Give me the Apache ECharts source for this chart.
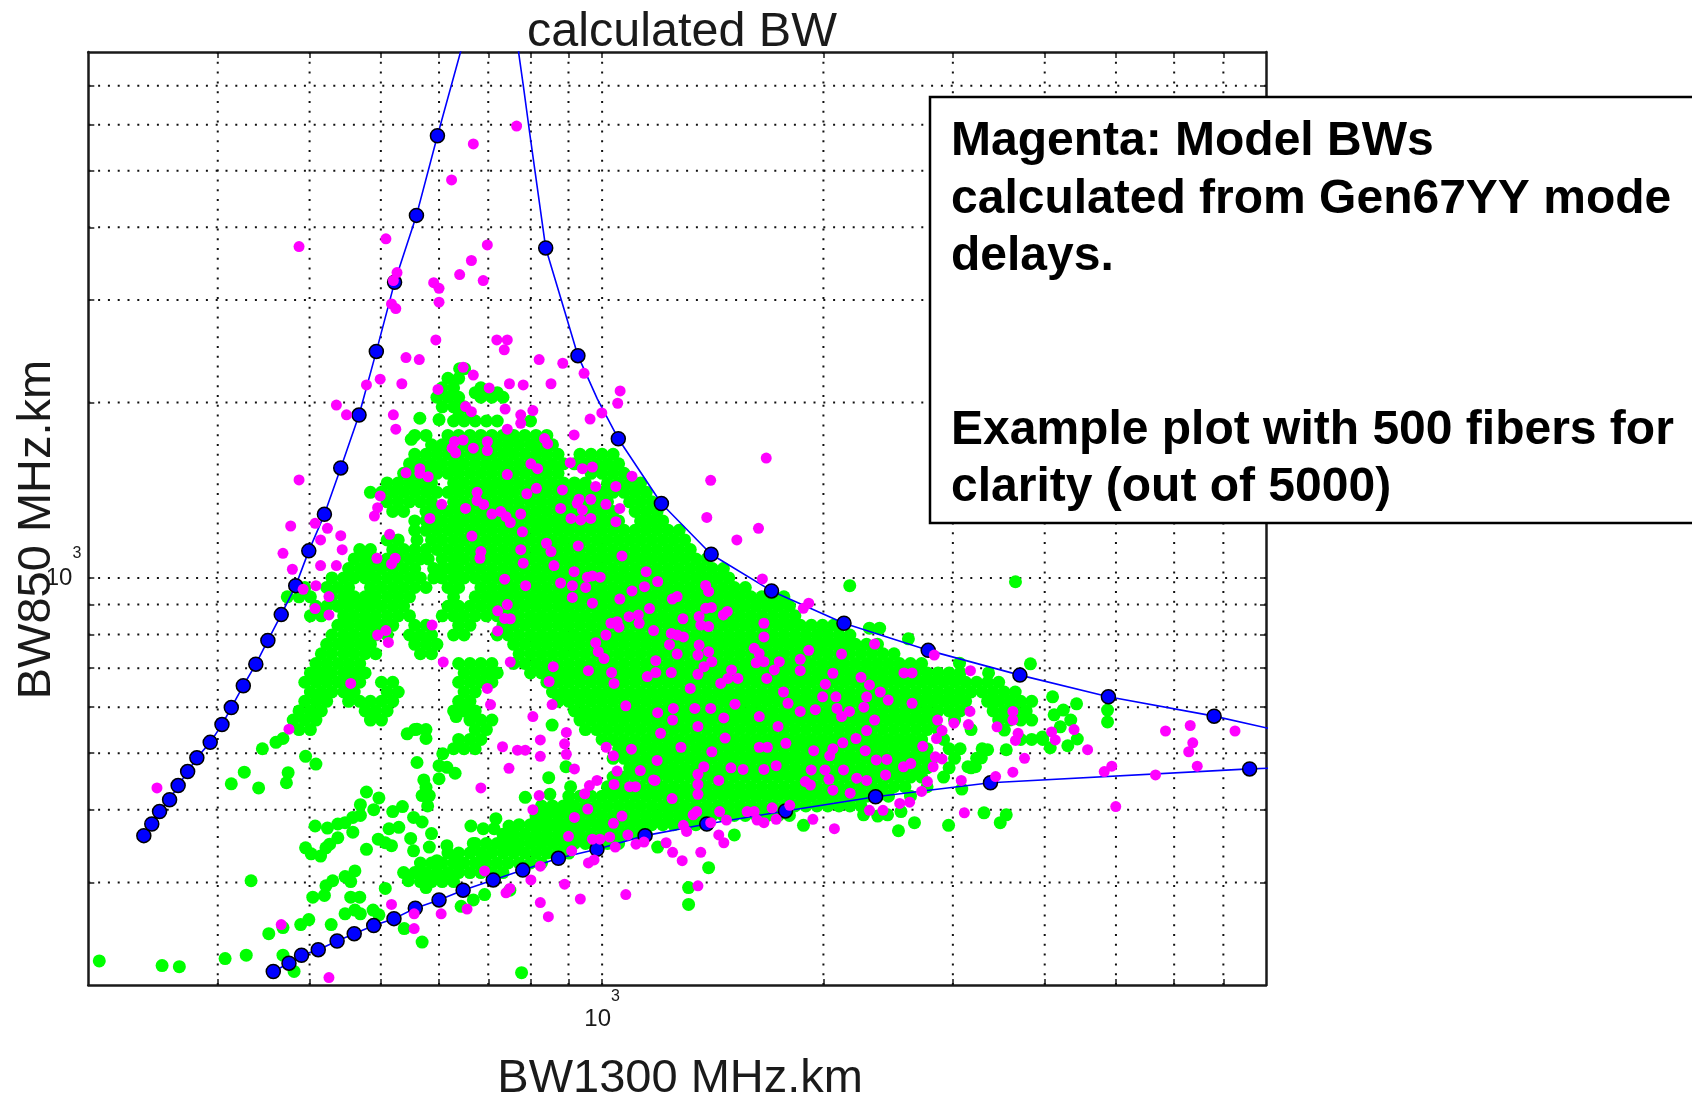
<!DOCTYPE html>
<html><head><meta charset="utf-8">
<style>html,body{margin:0;padding:0;background:#fff}#c{width:1692px;height:1097px}</style>
<script src="https://cdn.jsdelivr.net/npm/echarts@6/dist/echarts.min.js"></script>
</head><body><div id="c"></div>
<script>
const titleText = 'calculated BW';
const xName = 'BW1300 MHz.km';
const yName = 'BW850 MHz.km';
const noteLines = ['Magenta: Model BWs','calculated from Gen67YY mode','delays.','','','Example plot with 500 fibers for','clarity (out of 5000)'];
const axisMin = 200, axisMax = 8000;
const xGrid = [300,400,500,600,700,800,900,1000,2000,3000,4000,5000,6000,7000];
const yGrid = [300,400,500,600,700,800,900,1000,2000,3000,4000,5000,6000,7000];
const labelled = [1000];

// Blue bound curves and their markers
const upperDots = [[238,361],[244,378],[250,397],[258,416],[265,440],[273,465],[281,491],[293,522],[304,560],[313,599],[325,653],[338,711],[351,781],[366,865],[383,970],[399,1113],[419,1286],[441,1545],[467,1904],[493,2449],[522,3218],[559,4193],[597,5745],
 [838,3687],[927,2408],[1052,1734],[1204,1342],[1407,1098],[1700,950],[2133,836],[2777,751],[3701,681],[4883,625],[6800,579]];
const upperLine = [[238,361],[244,378],[250,397],[258,416],[265,440],[273,465],[281,491],[293,522],[304,560],[313,599],[325,653],[338,711],[351,781],[366,865],[383,970],[399,1113],[419,1286],[441,1545],[467,1904],[493,2449],[522,3218],[559,4193],[597,5745],[653,8660],
 [768,8700],[770,7970],[782,6940],[797,5808],[811,4960],[838,3687],[880,3000],[927,2408],[985,2030],[1052,1734],[1204,1342],[1407,1098],[1700,950],[2133,836],[2777,751],[3701,681],[4883,625],[6800,579],[8200,549]];
const lowerDots = [[357,211],[375,218],[390,225],[411,230],[436,238],[460,245],[489,253],[521,260],[557,271],[600,280],[647,291],[711,303],[780,315],[872,330],[984,342],[1144,361],[1388,378],[1776,398],[2355,421],[3375,445],[7600,470]];
const lowerLine = [...lowerDots,[8300,472]];

// Green cloud, read row by row: [BW850, BW1300, BW1300, ...]
const greenUpperRows = [
[2287,640,650],[2202,617,638],[2121,606,628,684],[2080,672,696,720],[2043,596,617,638,684,708,733],[1967,606,628,649],[1895,638,661],
[1860,628,649,672,696,720,799],
[1757,556,576,617,638,661,684,708,733,758,785,813,841],
[1693,586,606,628,649,672,696,720,745,771,799,827,856],
[1630,556,576,596,617,638,661,684,708,733,758,785,813,841,871,933,966,1000,1035],
[1570,547,566,586,606,628,649,672,696,720,745,771,799,827,856,886,917,949,983,1017,1053],
[1512,537,556,576,596,617,638,661,684,708,733,758,785,813,841,871,966,1000,1035,1071],
[1456,510,528,547,566,586,628,649,672,696,720,745,771,799,827,856,886,917,949,1017,1053,1090,1128],
[1403,484,501,519,537,556,576,596,617,638,661,684,708,733,758,785,813,841,871,901,933,966,1000,1035,1071,1109,1148],
[1351,510,528,547,566,586,628,649,672,696,720,745,771,799,827,856,886,917,949,983,1017,1090,1128,1168],
[1301,519,537,576,596,617,638,661,684,708,733,758,785,813,841,871,901,933,966,1000,1035,1109,1148,1188],
[1253,556,576,586,606,628,649,672,696,720,745,771,799,827,856,886,917,949,983,1017,1053,1128,1168,1209],
[1207,556,576,596,617,638,661,684,708,733,758,785,813,841,871,901,933,966,1000,1035,1071,1109,1148,1188,1230,1273],
[1162,510,528,560,586,606,628,649,672,696,720,745,771,799,827,856,886,917,949,983,1017,1053,1090,1128,1168,1209,1251,1295],
[1119,468,484,519,537,556,576,596,617,638,661,684,708,733,758,785,813,841,871,901,933,966,1000,1035,1071,1109,1148,1188,1230,1273,1318],
[1078,460,476,492,510,528,547,566,580,606,628,649,672,696,720,745,771,799,827,856,886,917,949,983,1017,1053,1090,1128,1168,1209,1251,1295,1341,1388],
[1038,452,468,484,501,519,537,556,590,606,620,638,661,684,708,733,758,785,813,841,871,901,933,966,1000,1035,1071,1109,1148,1188,1230,1273,1318,1364,1412,1462],
[1000,429,445,460,476,492,510,528,547,566,590,606,628,649,672,696,720,745,771,799,827,856,886,917,949,983,1017,1053,1090,1128,1168,1209,1251,1295,1341,1388,1437,1487],
[963,394,422,437,452,484,501,519,537,556,576,617,638,684,708,733,758,785,813,841,871,901,933,966,1000,1035,1071,1109,1148,1188,1230,1273,1318,1364,1412,1462,1513,1566],
[928,373,387,401,429,445,460,476,492,510,528,547,628,672,696,720,745,771,799,827,856,886,917,949,983,1017,1053,1090,1128,1168,1209,1251,1295,1341,1388,1437,1487,1539,1593,1649,1707,1767],
[894,408,422,437,452,468,484,501,519,537,617,638,661,684,708,733,758,785,813,841,871,901,933,966,1000,1035,1071,1109,1148,1188,1230,1273,1318,1364,1412,1462,1513,1566,1621,1678,1737,1798],
[861,401,415,445,460,476,492,510,528,547,606,628,649,672,696,720,745,771,799,827,856,886,917,949,983,1017,1053,1090,1128,1168,1209,1251,1295,1341,1388,1437,1487,1539,1593,1649,1707,1767,1829]
];
const greenMiddleRows = [
[829,437,452,468,484,501,519,556,576,638,661,733,758,785,813,841,871,901,933,966,1000,1035,1071,1109,1148,1188,1230,1273,1318,1364,1412,1462,1513,1566,1621,1678,1737,1798,1861,1926,1994,2064],
[798,429,445,460,476,492,510,547,566,586,628,649,720,745,771,799,827,856,886,917,949,983,1017,1053,1090,1128,1168,1209,1251,1295,1341,1388,1437,1487,1539,1593,1649,1707,1767,1829,1893,1960,2028,2100,2173],
[769,422,437,452,468,484,556,576,596,758,785,813,841,871,901,933,966,1000,1035,1071,1109,1148,1188,1230,1273,1318,1364,1412,1462,1513,1566,1621,1678,1737,1798,1861,1926,1994,2064,2136,2211,2289,2369],
[741,415,429,445,460,476,492,566,586,771,799,827,856,886,917,949,983,1017,1053,1090,1128,1168,1209,1251,1295,1341,1388,1437,1487,1539,1593,1649,1707,1767,1829,1893,1960,2028,2100,2173,2250,2329,2410,2495],
[713,408,422,437,452,468,638,661,684,708,758,785,813,841,871,901,933,966,1000,1035,1071,1109,1148,1188,1230,1273,1318,1364,1412,1462,1513,1566,1621,1678,1737,1798,1861,1926,1994,2064,2136,2211,2289,2369,2452,2538,2627,2720],
[687,401,415,429,445,460,476,649,672,696,720,799,827,856,886,917,949,983,1017,1053,1090,1128,1168,1209,1251,1295,1341,1388,1437,1487,1539,1593,1649,1707,1767,1829,1893,1960,2028,2100,2173,2250,2329,2410,2495,2582,2673,2767,2864,2965,3069],
[662,394,408,422,437,452,468,501,519,638,661,684,708,841,871,901,933,966,1000,1035,1071,1109,1148,1188,1230,1273,1318,1364,1412,1462,1513,1566,1621,1678,1737,1798,1861,1926,1994,2064,2136,2211,2289,2369,2452,2538,2627,2720,2815,2914,3016,3122,3232,3345,3463],
[637,401,415,429,445,460,510,528,649,672,856,886,917,949,983,1017,1053,1090,1128,1168,1209,1251,1295,1341,1388,1437,1487,1539,1593,1649,1707,1767,1829,1893,1960,2028,2100,2173,2250,2329,2410,2495,2582,2673,2767,2864,2965,3069,3176,3288,3403,3523,3647],
[614,394,408,422,452,468,484,501,519,638,661,871,901,933,966,1000,1035,1071,1109,1148,1188,1230,1273,1318,1364,1412,1462,1513,1566,1621,1678,1737,1798,1861,1926,1994,2064,2136,2211,2289,2369,2452,2538,2627,2720,2815,2914,3016,3122,3345,3463,3584,3710,3840],
[591,387,401,415,476,492,510,628,649,672,917,949,983,1017,1053,1090,1128,1168,1209,1251,1295,1341,1388,1437,1487,1539,1593,1649,1707,1767,1829,1893,1960,2028,2100,2173,2250,2329,2410,2495,2582,2673,2767,2864,2965,3069,3403,3523,3647,3775],
[570,380,394,408,484,501,661,684,708,933,966,1000,1035,1071,1109,1148,1188,1230,1273,1318,1364,1412,1462,1513,1566,1621,1678,1737,1798,1861,1926,1994,2064,2136,2211,2289,2369,2452,2538,2627,2720,2815,3016,3463,3584,3710,3840],
[549,387,401,556,576,672,696,949,983,1017,1053,1090,1128,1168,1209,1251,1295,1341,1388,1437,1487,1539,1593,1649,1707,1767,1829,1893,1960,2028,2100,2173,2250,2329,2410,2495,2582,2673,2767,2864,3176],
[528,638,661,684,1000,1035,1071,1109,1148,1188,1230,1273,1318,1364,1412,1462,1513,1566,1621,1678,1737,1798,1861,1926,1994,2064,2136,2211,2289,2369,2452,2538,2627,2720,2914,3710,3840,3975]
];
const greenLowerRows = [
[509,628,649,672,1053,1090,1128,1168,1209,1251,1295,1341,1388,1437,1487,1539,1593,1649,1707,1767,1829,1893,1960,2028,2100,2173,2250,2329,2410,2495,2582,2673,2767,2965,3069,3288],
[490,1035,1071,1109,1148,1188,1230,1273,1318,1364,1412,1462,1513,1566,1621,1678,1737,1798,1861,1926,1994,2064,2136,2211,2289,2369,2452,2538,2627,2720,2815,3016,3232],
[472,1090,1128,1168,1209,1251,1295,1341,1388,1437,1487,1539,1593,1649,1707,1767,1829,1893,1960,2028,2100,2173,2250,2329,2410,2495,2582,2673,2767,2965,3176],
[455,1035,1071,1109,1148,1188,1230,1273,1318,1364,1412,1462,1513,1566,1621,1678,1737,1798,1861,1926,1994,2064,2136,2211,2289,2369,2452,2538,2627,2720,2914],
[438,1017,1053,1090,1128,1168,1209,1251,1295,1341,1388,1437,1487,1539,1593,1649,1707,1767,1829,1893,1960,2028,2100,2173,2250,2329,2410,2495,2582,2767],
[422,901,933,966,1000,1035,1071,1109,1148,1188,1230,1273,1318,1364,1412,1462,1513,1566,1621,1678,1737,1798,1861,1926,1994,2064,2136,2211,2289,2369,2452,2627],
[406,827,856,886,917,949,983,1017,1053,1090,1128,1168,1209,1251,1295,1341,1388,1437,1487,1539,1593,1649,1707,1767,1829,1893,1960,2028,2100,2173,2250],
[391,813,841,871,901,933,966,1000,1035,1071,1109,1148,1188,1230,1273,1318,1364,1412,1462,1513,1566,1621,1678,1737,1798],
[377,771,799,827,856,886,917,949,983,1017,1053,1090,1128,1168,1209,1251,1295,1341,1388],
[363,733,758,785,813,841,871,901,933,966,1000,1035,1071,1109,1148],
[350,672,696,720,745,771,799,827,856,886,917,949,983,1017,1053],
[337,617,638,661,684,708,733,758,785,813,841,871,901],
[324,566,586,606,628,649,672,696,720,745,771,799,827],
[312,537,556,576,596,617,638,661,684,708,733],
[301,566,586,606,628]
];
const greenLoose = [[565,1880],[550,1730],[600,1870],[307,222],[328,225],[252,216],[266,215],[207,220],[333,302],[313,443],[326,464],[341,436],[345,509],[360,522],[368,530],[372,445],[374,463],[395,494],[408,479],[407,375],[423,372],[437,378],[447,380],[458,388],[469,391],[458,366],[437,358],[426,349],[421,344],[395,344],[402,336],[414,333],[478,342],[496,356],[507,351],[517,347],[513,371],[529,373],[549,357],[478,429],[497,419],[489,400],[469,408],[519,397],[535,405],[554,388],[569,381],[579,406],[586,364],[572,450],[576,437],[582,423],[569,423],[600,452],[607,499],[600,476],[615,473],[631,462],[560,482],[576,530],[543,540],[560,550],[633,578],[657,600],[663,375],[689,371],[713,371],[747,375],[755,363],[717,386],[554,340],[582,345],[615,347],[596,327],[633,327],[668,350],[689,331],[735,345],[768,345],[561,312],[545,302],[576,294],[421,296],[430,302],[447,307],[461,314],[455,301],[404,283],[419,285],[455,283],[468,283],[507,293],[447,265],[461,269],[469,265],[488,269],[497,264],[399,259],[389,254],[428,254],[352,245],[368,251],[368,225],[381,211],[538,250],[569,237],[643,273],[692,286],[668,280],[749,291],[777,210],[855,559],[893,474],[846,454],[906,438],[849,425],[786,420],[825,388],[855,400],[897,404],[1396,318],[1311,294],[1311,275],[1190,345],[1513,362],[1879,376],[2268,392],[2371,390],[2445,392],[2550,397],[2530,368],[2660,380],[2960,376],[3307,395],[3480,380],[3546,392],[3546,507],[3085,434],[3145,474],[3220,474],[3280,491],[3345,507],[3394,610],[3525,548],[4100,625],[4120,582],[4240,593],[4420,608],[4340,570],[4200,555],[4430,529],[4300,515],[4070,511],[3970,533],[3825,712],[3650,985],[2172,970],[2610,786],[4870,593],[4870,566],[3063,714],[3355,687],[2310,820],[2385,820]];
const greenPoints = [...greenUpperRows,...greenMiddleRows,...greenLowerRows].flatMap(r => r.slice(1).map(x => [x, r[0]])).concat(greenLoose);

// Magenta model points
const magentaTop = [[765,5970],[668,5563],[624,4825],[387,3707],[508,3822],[698,3731],[664,3508],[640,3319],[689,3240],[590,3214],[600,3143],[600,2975],[526,3344],[520,3240],[517,2955],[524,2901],[594,2563],[719,2563],[743,2563],[736,2464],[541,2390],[564,2371],[821,2371],[884,2337],[647,2300],[668,2230],[945,2246],[499,2194],[478,2145],[534,2155],[598,2107],[702,2120],[748,2155],[781,2145],[852,2155],[1058,2095],[1050,1995],[435,1981],[449,1906],[520,1906],[524,1801],[652,1969],[664,1930],[738,1950],[775,1906],[805,1938],[775,1843],[743,1801],[963,1874],[999,1920],[916,1760],[835,1735],[843,1700],[647,1725],[630,1715],[625,1670],[632,1640],[668,1670],[698,1715],[698,1655],[905,1577],[940,1540],[970,1550],[800,1570],[817,1540],[565,1540],[541,1515],[565,1512],[580,1492],[743,1505],[1098,1495],[1672,1606],[1405,1471],[387,1473],[980,1436],[1044,1436],[883,1416],[814,1425],[790,1395],[676,1403],[676,1357],[690,1337],[499,1383],[495,1320],[605,1338],[652,1316],[878,1316],[925,1343],[965,1365],[1012,1338],[1057,1316],[930,1365],[940,1308],[708,1287],[728,1300],[740,1274],[750,1245],[775,1287],[907,1265],[935,1258],[965,1265],[1044,1249],[1388,1270],[1632,1217],[1525,1162],[490,1277],[583,1265],[377,1228],[407,1241],[423,1217],[414,1162],[441,1182],[443,1118],[368,1102],[514,1188],[665,1180],[779,1200],[840,1147],[852,1110],[928,1135],[1064,1091],[684,1110],[682,1081],[775,1118],[523,1081],[517,1057],[494,1081],[379,1035],[414,1050],[435,1050],[781,1060],[860,1050],[1148,1025],[916,1025],[955,1003],[970,1008],[994,1003],[737,995],[878,980],[911,970],[950,963],[1142,966],[1190,986],[787,970],[392,956],[408,970],[425,929],[407,886],[425,864],[1652,996],[911,926],[1057,920],[1098,950],[1246,920],[1265,929],[743,900],[721,878],[737,852],[750,851],[970,905],[1160,886],[1383,971],[1396,948],[1383,887],[1408,890],[1462,864],[1480,876],[1288,851],[1088,858],[1120,864],[1028,836],[1048,841],[1054,823],[1123,836],[1355,859],[1362,830],[1396,825],[1660,836],[587,830],[495,798],[508,812],[512,775],[721,811],[1012,798],[1175,812],[1242,803],[1265,798],[1290,792],[1235,768],[1660,792],[980,774],[988,747],[1006,727],[1265,740],[1183,721],[1355,767],[1396,747],[1350,737],[1610,757],[1635,742],[1620,715],[1660,718],[1410,718],[1376,704],[608,717],[750,717],[858,704],[958,693],[1030,688],[1242,688],[1183,688],[1152,677],[1350,683],[1500,695],[1483,672],[1530,672],[1450,659],[1715,695],[1742,718],[455,659],[847,664],[1038,659],[698,646],[1318,646],[1675,672]];
const magentaRight = [[1878,887],[1910,905],[2348,770],[2830,737],[3170,693],[2574,687],[2640,687],[1860,725],[1860,693],[1910,751],[2117,740],[2060,686],[2250,675],[2012,657],[1995,625],[2080,625],[2310,655],[2290,625],[2390,637],[2450,617],[2640,609],[2270,600],[2087,597],[2117,578],[2170,590],[1950,594],[1860,590],[1790,609],[1765,637],[1735,556],[2348,570],[2290,547],[2860,570],[3010,563],[3150,560],[3165,590],[3620,590],[3620,570],[3445,555],[3680,541],[3650,526],[4088,544],[4135,527],[4385,549],[5840,546],[6310,558],[7260,546],[6360,521],[6280,503],[6450,475],[4935,475],[4820,465],[5660,459],[4575,507],[4997,405],[3755,490],[3620,464],[3430,456],[3080,449],[3110,395],[2770,447],[2840,493],[2730,514],[2900,489],[2820,474],[2850,530],[2900,547],[2630,480],[2570,474],[2430,459],[2360,487],[2440,488],[2280,505],[2215,530],[2125,521],[2060,509],[2040,495],[1940,505],[1778,520],[1636,512],[1678,512],[1925,468],[2010,468],[2130,468],[2220,453],[2290,449],[2035,451],[2060,432],[1890,447],[1920,441],[2175,427],[2720,430],[2620,412],[2540,410],[2410,399],[2310,399],[2070,371],[1935,385],[1800,407],[1725,385],[1660,380],[1625,384],[1575,397],[1610,397],[1476,384],[1445,397],[1405,380],[1441,362],[1464,351],[1303,367],[1222,351],[1247,338],[1285,327],[1362,338],[1350,296],[1190,587],[1250,597],[1337,597],[1405,597],[1516,607],[1636,578],[1247,570],[1350,556],[1464,575],[1201,541],[1470,531],[1280,512],[1410,503],[1188,486],[1375,474],[1350,460],[1497,472],[1555,469],[1660,469],[1725,476],[1350,442],[1350,425],[1441,449],[1180,449],[1245,418],[1345,397],[1330,392],[1290,376],[1703,403]];
const magentaLower = [[705,606],[855,606],[805,578],[824,527],[894,543],[889,519],[894,498],[824,494],[732,513],[767,506],[786,506],[747,471],[917,470],[684,436],[821,423],[805,400],[917,388],[1077,603],[1013,512],[1036,495],[1048,466],[1096,508],[1127,467],[1038,442],[1175,450],[1090,438],[1110,438],[984,449],[961,440],[947,426],[956,401],[1064,390],[1036,379],[900,360],[970,356],[993,356],[1024,359],[1084,362],[1112,349],[1140,352],[1042,345],[909,340],[958,324],[975,328],[824,320],[692,314],[800,303],[889,298],[749,293],[740,288],[824,277],[934,281],[1077,286],[845,262],[655,270],[604,265],[517,275],[555,265],[555,250],[366,254],[425,206],[248,436],[375,550]];
const magentaPoints = [...magentaTop,...magentaRight,...magentaLower];

const FONT = '"Liberation Sans", Arial, sans-serif';
const INK = '#1a1a1a';
const gridSeries = [
  ...xGrid.map(v => ({data:[[v,axisMin],[v,axisMax]]})),
  ...yGrid.map(v => ({data:[[axisMin,v],[axisMax,v]]}))
].map(s => ({type:'line',data:s.data,showSymbol:false,silent:true,z:1,animation:false,lineStyle:{color:'#111',width:2,type:[2,7.8]}}));

const mkAxis = (pos, ticks, name, extra) => Object.assign({
  type:'log', logBase:10, min:axisMin, max:axisMax, position:pos,
  axisLine:{show:true,onZero:false,lineStyle:{color:INK,width:2.5}},
  axisTick:{show:true,inside:true,length:6,customValues:ticks,lineStyle:{color:INK,width:1.5}},
  splitLine:{show:false}, minorTick:{show:false}, minorSplitLine:{show:false},
  axisLabel:{show:false}
}, extra);
const xRich = {
  b:{fontFamily:FONT,fontSize:24,color:INK,verticalAlign:'bottom',padding:[18,0,0,0]},
  s:{fontFamily:FONT,fontSize:16,color:INK,verticalAlign:'top'}
};
const yRich = {
  b:{fontFamily:FONT,fontSize:24,color:INK,verticalAlign:'middle',padding:[20,0,20,0]},
  s:{fontFamily:FONT,fontSize:16,color:INK,verticalAlign:'top'}
};
const chart = echarts.init(document.getElementById('c'),null,{renderer:'canvas',width:1692,height:1097});
chart.setOption({
  animation:false, backgroundColor:'#fff',
  title:{text:titleText,left:677,top:3,textAlign:'center',textStyle:{fontFamily:FONT,fontWeight:'normal',fontSize:48.5,color:INK}},
  grid:{left:88.3,top:52,width:1177.7,height:933,containLabel:false,outerBoundsMode:'none'},
  xAxis:[
    mkAxis('bottom',xGrid,xName,{name:xName,nameLocation:'middle',nameGap:71,nameMoveOverlap:false,nameTextStyle:{fontFamily:FONT,fontSize:47,color:INK,padding:[0,0,0,6]},
      axisLabel:{show:true,customValues:labelled,margin:4,formatter:()=>'{b|10}{s|3}',rich:xRich}}),
    mkAxis('top',xGrid,'',{})
  ],
  yAxis:[
    mkAxis('left',yGrid,yName,{name:yName,nameLocation:'middle',nameGap:28,nameMoveOverlap:false,nameTextStyle:{fontFamily:FONT,fontSize:47,color:INK,padding:[0,22,0,0]},
      axisLabel:{show:true,customValues:labelled,margin:7,formatter:()=>'{b|10}{s|3}',rich:yRich}}),
    mkAxis('right',yGrid,'',{})
  ],
  series:[
    ...gridSeries,
    {name:'measured',type:'scatter',data:greenPoints,symbolSize:13,itemStyle:{color:'#00ff00',opacity:1},silent:true,z:2,large:false,progressive:0},
    {name:'bound upper',type:'line',data:upperLine,showSymbol:false,silent:true,z:3,clip:true,lineStyle:{color:'#0000ff',width:1.6}},
    {name:'bound lower',type:'line',data:lowerLine,showSymbol:false,silent:true,z:3,clip:true,lineStyle:{color:'#0000ff',width:1.6}},
    {name:'bound points',type:'scatter',data:[...upperDots,...lowerDots],symbolSize:14,itemStyle:{color:'#0000ff',borderColor:'#000',borderWidth:1.5,opacity:1},silent:true,z:4,progressive:0},
    {name:'model',type:'scatter',data:magentaPoints,symbolSize:11,itemStyle:{color:'#ff00ff',opacity:1},silent:true,z:5,progressive:0}
  ],
  graphic:[
    {type:'rect',z:1000,shape:{x:930,y:97,width:800,height:426},style:{fill:'#fff',stroke:'#000',lineWidth:2.5}},
    {type:'text',z:1001,x:951,y:113,style:{text:noteLines.join('\n'),font:'bold 48px '+FONT,fill:'#000',lineHeight:57.7,textVerticalAlign:'top'}}
  ]
});
</script></body></html>
